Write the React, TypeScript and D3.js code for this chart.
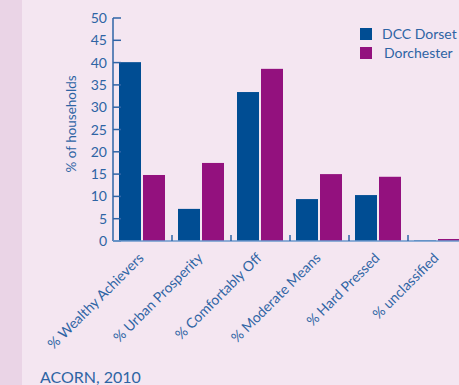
import React from "react";
import * as d3 from "d3";

const categories = [
  "% Wealthy Achievers",
  "% Urban Prosperity",
  "% Comfortably Off",
  "% Moderate Means",
  "% Hard Pressed",
  "% unclassified",
];
const seriesNames = ["DCC Dorset", "Dorchester"];
const dccDorset = [40.1, 7.2, 33.4, 9.4, 10.3, 0.15];
const dorchester = [14.8, 17.5, 38.6, 15.0, 14.4, 0.45];
const yTicks = [0, 5, 10, 15, 20, 25, 30, 35, 40, 45, 50];
const seriesColors = ["#004d93", "#93117e"];

const W = 459;
const H = 385;
const textBlue = "#2e64a4";
const font = "Lato, 'Open Sans', sans-serif";

export default function App() {
  const x0 = 113;
  const step = 59;
  const x = d3
    .scaleBand<string>()
    .domain(categories)
    .range([x0, x0 + step * categories.length])
    .padding(0);
  const inner = d3
    .scaleBand<string>()
    .domain(seriesNames)
    .range([6, 52])
    .paddingInner(0.0833)
    .paddingOuter(0);
  const y = d3.scaleLinear().domain([0, 50]).range([241, 18]);
  const values = [dccDorset, dorchester];

  return (
    <svg
      width={W}
      height={H}
      style={{ position: "fixed", left: 0, top: 0 }}
      fontFamily={font}
    >
      <rect x={0} y={0} width={W} height={H} fill="#f4e6f1" />
      <rect x={0} y={0} width={22} height={H} fill="#ead4e6" />

      {/* bars */}
      {categories.map((c, i) =>
        seriesNames.map((s, j) => {
          const v = values[j][i];
          return (
            <rect
              key={c + s}
              x={(x(c) ?? 0) + (inner(s) ?? 0)}
              y={y(v)}
              width={inner.bandwidth()}
              height={y(0) - y(v)}
              fill={seriesColors[j]}
            />
          );
        })
      )}

      {/* y axis */}
      <line x1={x0} x2={x0} y1={y(50)} y2={y(0)} stroke="#2f64a6" strokeWidth={1.5} />
      {yTicks.map((t) => (
        <g key={t}>
          <line x1={x0} x2={x0 + 8} y1={y(t)} y2={y(t)} stroke="#2f64a6" strokeWidth={1.5} />
          <text
            x={107}
            y={y(t)}
            dy="0.36em"
            textAnchor="end"
            fontSize={14}
            fill={textBlue}
          >
            {t}
          </text>
        </g>
      ))}
      <text
        transform={`translate(76,124) rotate(-90)`}
        textAnchor="middle"
        fontSize={13.5}
        fill={textBlue}
      >
        % of households
      </text>

      {/* x axis */}
      <line x1={x0} x2={W} y1={241} y2={241} stroke="#6b98cc" strokeWidth={1.5} />
      {categories.map((c, i) =>
        i === 0 ? null : (
          <line
            key={"t" + c}
            x1={x(c)}
            x2={x(c)}
            y1={235}
            y2={241}
            stroke="#2f64a6"
            strokeWidth={1.5}
          />
        )
      )}
      {categories.map((c) => {
        const cx = (x(c) ?? 0) + x.bandwidth() / 2 + 2;
        return (
          <text
            key={"l" + c}
            transform={`translate(${cx},259) rotate(-45)`}
            textAnchor="end"
            fontSize={14}
            fill={textBlue}
          >
            {c}
          </text>
        );
      })}

      {/* legend */}
      {seriesNames.map((s, j) => (
        <g key={s} transform={`translate(360,${28 + j * 19})`}>
          <rect x={0} y={0} width={12} height={12} fill={seriesColors[j]} />
          <text x={j === 0 ? 22 : 24} y={6} dy="0.36em" fontSize={14} fill={textBlue}>
            {s}
          </text>
        </g>
      ))}

      <text x={40} y={383} fontSize={16} fill={textBlue}>
        ACORN, 2010
      </text>
    </svg>
  );
}
